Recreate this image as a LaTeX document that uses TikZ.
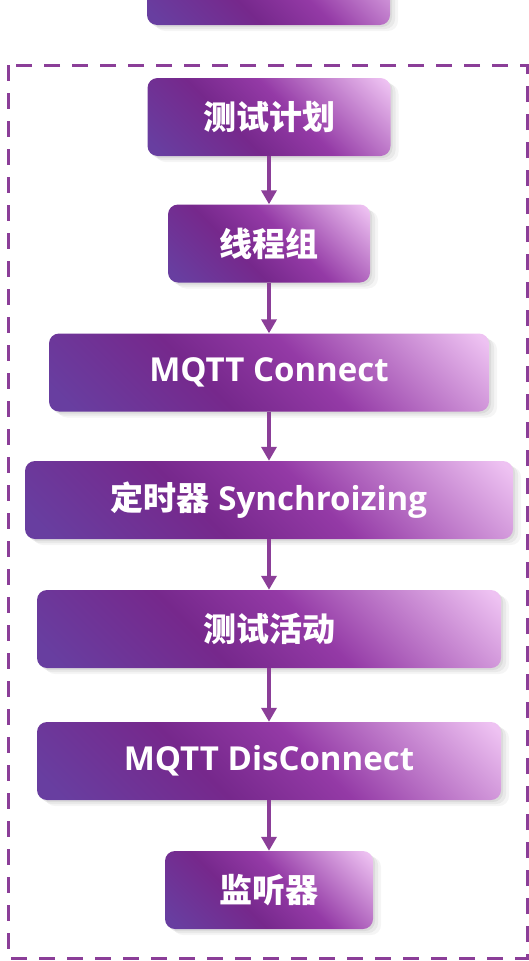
\documentclass[tikz,border=0pt]{standalone}
\usepackage{fontspec}
\setmainfont{Open Sans}
\newfontfamily\cjk{Noto Sans CJK SC}
\usetikzlibrary{arrows.meta,shadows}
\definecolor{flowpurple}{RGB}{139,62,152}
\definecolor{boxblue}{RGB}{104,62,160}
\definecolor{boxdark}{RGB}{118,40,140}
\definecolor{boxmid}{RGB}{148,58,166}
\definecolor{boxlight}{RGB}{238,194,242}
\pgfdeclarehorizontalshading{boxshade}{100bp}{color(0bp)=(boxblue); color(18bp)=(boxblue);
  color(40bp)=(boxdark); color(56bp)=(boxmid); color(84bp)=(boxlight); color(100bp)=(boxlight)}

\tikzset{
  stepbox/.style={rounded corners=10pt,shading=boxshade,shading angle=45,
    minimum height=78pt,inner sep=0pt,text=white,
    font=\fontsize{33}{38}\selectfont\bfseries,
    general shadow={fill=black,opacity=.06,shadow xshift=2pt,shadow yshift=-2pt},
    general shadow={fill=black,opacity=.05,shadow xshift=5pt,shadow yshift=-4pt},
    general shadow={fill=black,opacity=.04,shadow xshift=8pt,shadow yshift=-6pt}},
  flowarrow/.style={-{Triangle[width=15pt,length=14pt]},line width=3.5pt,draw=flowpurple},
  dashframe/.style={draw=flowpurple,line width=3pt,dash pattern=on 16pt off 12pt}
}

\begin{document}
\begin{tikzpicture}[x=1pt,y=1pt]
  \useasboundingbox (0,0) rectangle (529,-961);
  % Dashed frame round the test plan.
  \draw[dashframe] (8,-65) rectangle (527,-958);

  \node[stepbox,minimum width=243pt] (prev) at (268.5,14) {};
  \node[stepbox,minimum width=243pt] (plan) at (269,-117) {\cjk 测试计划};
  \node[stepbox,minimum width=202pt] (group) at (269,-243.5) {\cjk 线程组};
  \node[stepbox,minimum width=440pt] (connect) at (269,-372.5) {MQTT Connect};
  \node[stepbox,minimum width=488pt] (timer) at (269,-500) {{\cjk 定时器} Synchroizing};
  \node[stepbox,minimum width=464pt] (action) at (269,-629) {\cjk 测试活动};
  \node[stepbox,minimum width=464pt] (disconnect) at (269,-761) {MQTT DisConnect};
  \node[stepbox,minimum width=208pt] (listener) at (269,-890) {\cjk 监听器};

  \foreach \a/\b in {plan/group,group/connect,connect/timer,timer/action,
    action/disconnect,disconnect/listener}
    \draw[flowarrow] (\a) -- (\b);
\end{tikzpicture}
\end{document}
